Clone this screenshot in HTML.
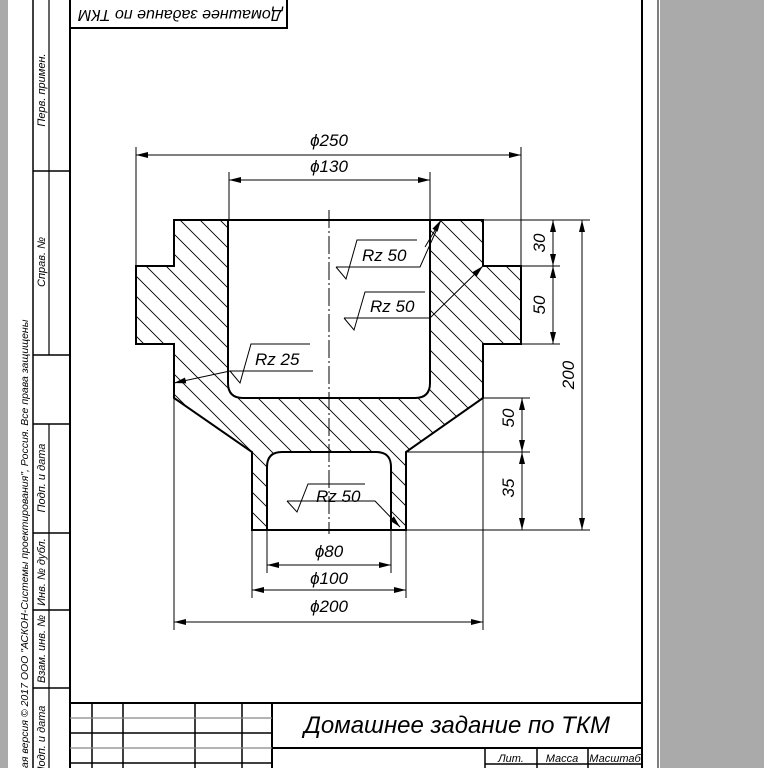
<!DOCTYPE html>
<html><head><meta charset="utf-8"><style>
html,body{margin:0;padding:0;background:#fff}
svg{display:block}
text{font-family:"Liberation Sans","DejaVu Sans",sans-serif;font-style:italic;fill:#000}
</style></head><body>
<svg width="764" height="768" viewBox="0 0 764 768" xmlns="http://www.w3.org/2000/svg">
<defs>
<pattern id="h" patternUnits="userSpaceOnUse" width="20" height="20">
<path d="M0,0 L20,20 M-5,15 L5,25 M15,-5 L25,5" stroke="#000" stroke-width="0.9"/>
</pattern>
<marker id="a" viewBox="0 0 12 6" refX="12" refY="3" markerWidth="12" markerHeight="6" orient="auto" markerUnits="userSpaceOnUse"><path d="M0,0 L12,3 L0,6 Z" fill="#000"/></marker>
<marker id="s" viewBox="0 0 12 6" refX="0" refY="3" markerWidth="12" markerHeight="6" orient="auto" markerUnits="userSpaceOnUse"><path d="M12,0 L0,3 L12,6 Z" fill="#000"/></marker>
</defs>
<rect x="0" y="0" width="8" height="768" fill="#aaa"/>
<rect x="660" y="0" width="104" height="768" fill="#aaa"/>
<line x1="658" y1="0" x2="658" y2="768" stroke="#555" stroke-width="1.5"/>
<g stroke="#000" fill="none">
<line x1="642" y1="0" x2="642" y2="768" stroke-width="2"/>
<line x1="70" y1="0" x2="70" y2="768" stroke-width="2"/>
<line x1="33" y1="0" x2="33" y2="768" stroke-width="1.5"/>
<line x1="49" y1="0" x2="49" y2="355" stroke-width="1.2"/>
<line x1="49" y1="424" x2="49" y2="768" stroke-width="1.2"/>
<g stroke-width="1.5">
<line x1="33" y1="171" x2="70" y2="171"/><line x1="33" y1="355" x2="70" y2="355"/>
<line x1="33" y1="424" x2="70" y2="424"/><line x1="33" y1="533" x2="70" y2="533"/>
<line x1="33" y1="610" x2="70" y2="610"/><line x1="33" y1="688" x2="70" y2="688"/>
</g>
<rect x="70" y="-2" width="217" height="30" stroke-width="2"/>
<line x1="70" y1="703" x2="642" y2="703" stroke-width="2"/>
<line x1="272" y1="748" x2="642" y2="748" stroke-width="2"/>
<line x1="272" y1="703" x2="272" y2="768" stroke-width="2"/>
<g stroke-width="1.5">
<line x1="92" y1="703" x2="92" y2="768"/><line x1="123" y1="703" x2="123" y2="768"/>
<line x1="195" y1="703" x2="195" y2="768"/><line x1="242" y1="703" x2="242" y2="768"/>
<line x1="70" y1="733" x2="272" y2="733"/><line x1="70" y1="763" x2="272" y2="763"/>
<line x1="485" y1="748" x2="485" y2="768"/><line x1="537" y1="748" x2="537" y2="768"/>
<line x1="588" y1="748" x2="588" y2="768"/><line x1="485" y1="764" x2="642" y2="764"/>
</g>
<g stroke="#888" stroke-width="1.2"><line x1="70" y1="718" x2="272" y2="718"/><line x1="70" y1="748" x2="272" y2="748"/></g>
</g>
<text transform="translate(180,14) rotate(180)" font-size="16" text-anchor="middle" dominant-baseline="middle">Домашнее задание по ТКМ</text>
<text transform="translate(45,90) rotate(-90)" font-size="11" text-anchor="middle">Перв. примен.</text>
<text transform="translate(45,262) rotate(-90)" font-size="11" text-anchor="middle">Справ. №</text>
<text transform="translate(45,478) rotate(-90)" font-size="11" text-anchor="middle">Подп. и дата</text>
<text transform="translate(45,572) rotate(-90)" font-size="11" text-anchor="middle">Инв. № дубл.</text>
<text transform="translate(45,649) rotate(-90)" font-size="11" text-anchor="middle">Взам. инв. №</text>
<text transform="translate(45,740) rotate(-90)" font-size="11" text-anchor="middle">Подп. и дата</text>
<text transform="translate(28,768) rotate(-90)" font-size="10.5">ая версия © 2017 ООО "АСКОН-Системы проектирования", Россия. Все права защищены</text>
<text x="457" y="733" font-size="24" text-anchor="middle">Домашнее задание по ТКМ</text>
<text x="511" y="762" font-size="11" text-anchor="middle">Лит.</text>
<text x="562" y="762" font-size="11" text-anchor="middle">Масса</text>
<text x="615" y="762" font-size="11" text-anchor="middle">Масштаб</text>
<path fill="url(#h)" fill-rule="evenodd" d="M174,220 L483,220 L483,266 L521,266 L521,344 L483,344 L483,398 L406,452 L406,530 L252,530 L252,452 L174,398 L174,344 L136,344 L136,266 L174,266 Z M228,220 L430,220 L430,383 Q430,398 415,398 L243,398 Q228,398 228,383 Z M267,530 L267,467 Q267,452 282,452 L376,452 Q391,452 391,467 L391,530 Z"/>
<g fill="none" stroke="#000" stroke-width="2">
<path d="M174,220 L483,220 L483,266 L521,266 L521,344 L483,344 L483,398 L406,452 L406,530 L252,530 L252,452 L174,398 L174,344 L136,344 L136,266 L174,266 Z"/>
<path d="M228,220 L228,383 Q228,398 243,398 L415,398 Q430,398 430,383 L430,220"/>
<path d="M267,530 L267,467 Q267,452 282,452 L376,452 Q391,452 391,467 L391,530"/>
</g>
<line x1="329" y1="210" x2="329" y2="534" stroke="#000" stroke-width="1" stroke-dasharray="18,3,2,3"/>
<g stroke="#000" stroke-width="1" fill="none">
<line x1="136" y1="147" x2="136" y2="266"/><line x1="521" y1="147" x2="521" y2="266"/>
<line x1="136" y1="155" x2="521" y2="155" marker-start="url(#s)" marker-end="url(#a)"/>
<line x1="229" y1="172" x2="229" y2="220"/><line x1="430" y1="172" x2="430" y2="220"/>
<line x1="229" y1="180" x2="430" y2="180" marker-start="url(#s)" marker-end="url(#a)"/>
<line x1="483" y1="220" x2="590" y2="220"/><line x1="521" y1="266" x2="560" y2="266"/>
<line x1="521" y1="344" x2="560" y2="344"/><line x1="406" y1="530" x2="590" y2="530"/>
<line x1="483" y1="398" x2="530" y2="398"/><line x1="406" y1="452" x2="530" y2="452"/>
<line x1="553" y1="220" x2="553" y2="266" marker-start="url(#s)" marker-end="url(#a)"/>
<line x1="553" y1="266" x2="553" y2="344" marker-start="url(#s)" marker-end="url(#a)"/>
<line x1="582" y1="220" x2="582" y2="530" marker-start="url(#s)" marker-end="url(#a)"/>
<line x1="522" y1="398" x2="522" y2="452" marker-start="url(#s)" marker-end="url(#a)"/>
<line x1="522" y1="452" x2="522" y2="530" marker-start="url(#s)" marker-end="url(#a)"/>
<line x1="267" y1="530" x2="267" y2="573"/><line x1="391" y1="530" x2="391" y2="573"/>
<line x1="252" y1="530" x2="252" y2="598"/><line x1="406" y1="530" x2="406" y2="598"/>
<line x1="174" y1="398" x2="174" y2="630"/><line x1="483" y1="398" x2="483" y2="630"/>
<line x1="267" y1="565" x2="391" y2="565" marker-start="url(#s)" marker-end="url(#a)"/>
<line x1="252" y1="590" x2="406" y2="590" marker-start="url(#s)" marker-end="url(#a)"/>
<line x1="174" y1="622" x2="483" y2="622" marker-start="url(#s)" marker-end="url(#a)"/>
<path d="M336,267 L346,279 L357,240 L417,240 M336,267 L420,267 L441,220" /><line x1="425" y1="247" x2="441" y2="220" marker-end="url(#a)"/>
<path d="M344,318 L354,330 L365,292 L425,292 M344,318 L430,318 L483,266" marker-end="url(#a)"/>
<path d="M230,371 L240,383 L251,344 L310,344"/>
<path d="M313,371 L230,371 L174,383" marker-end="url(#a)"/>
<path d="M287,501 L297,512 L308,484 L365,484 M287,501 L375,501 L400,527" marker-end="url(#a)"/>
</g>
<g font-size="17">
<text x="329" y="146" text-anchor="middle">ϕ250</text>
<text x="329" y="172" text-anchor="middle">ϕ130</text>
<text x="329" y="557" text-anchor="middle">ϕ80</text>
<text x="329" y="584" text-anchor="middle">ϕ100</text>
<text x="329" y="612" text-anchor="middle">ϕ200</text>
<text transform="translate(545,243) rotate(-90)" text-anchor="middle">30</text>
<text transform="translate(545,305) rotate(-90)" text-anchor="middle">50</text>
<text transform="translate(574,375) rotate(-90)" text-anchor="middle">200</text>
<text transform="translate(514,418) rotate(-90)" text-anchor="middle">50</text>
<text transform="translate(514,488) rotate(-90)" text-anchor="middle">35</text>
<text x="362" y="261">Rz 50</text>
<text x="370" y="312">Rz 50</text>
<text x="255" y="365">Rz 25</text>
<text x="316" y="502">Rz 50</text>
</g>
</svg>
</body></html>
